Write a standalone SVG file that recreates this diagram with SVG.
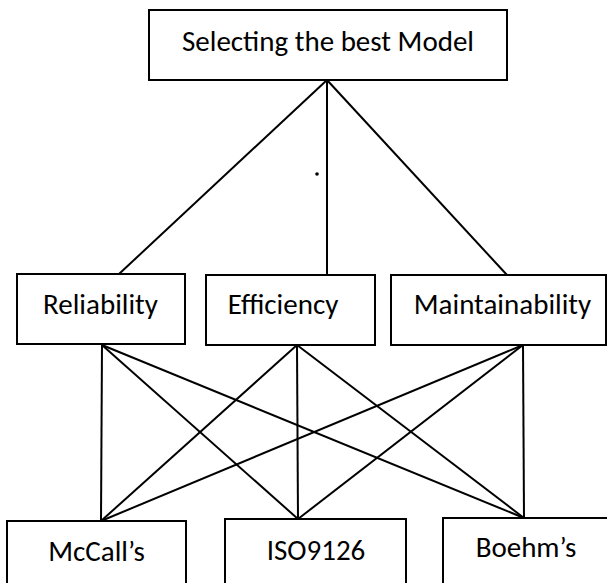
<svg xmlns="http://www.w3.org/2000/svg" width="607" height="583" viewBox="0 0 607 583">
<style>
.box{fill:#fff;stroke:#000;stroke-width:2}
.lbl{font-family:Carlito,Lato,"Liberation Sans",sans-serif;font-size:29px;fill:#000}
.con line{stroke:#000;stroke-width:2}
</style>
<rect width="607" height="583" fill="#fff"/>
<g class="con">
<line x1="327" y1="80" x2="119" y2="274"/>
<line x1="327" y1="80" x2="327" y2="275"/>
<line x1="327" y1="80" x2="507" y2="275"/>
<line x1="102" y1="345" x2="101" y2="521"/>
<line x1="102" y1="345" x2="298" y2="519"/>
<line x1="102" y1="345" x2="524" y2="518"/>
<line x1="297" y1="345" x2="101" y2="521"/>
<line x1="297" y1="345" x2="298" y2="519"/>
<line x1="297" y1="345" x2="524" y2="518"/>
<line x1="523" y1="345" x2="101" y2="521"/>
<line x1="523" y1="345" x2="298" y2="519"/>
<line x1="523" y1="345" x2="524" y2="518"/>
</g>
<circle cx="317" cy="174" r="1.8" fill="#000"/>
<g id="top"><rect class="box" x="149" y="10" width="358" height="70"/><text class="lbl" x="328" y="51" text-anchor="middle">Selecting the best Model</text></g>
<g id="reliability"><rect class="box" x="17" y="274" width="168" height="70"/><text class="lbl" x="100.5" y="314" text-anchor="middle">Reliability</text></g>
<g id="efficiency"><rect class="box" x="206" y="275" width="169" height="70"/><text class="lbl" x="283" y="314" text-anchor="middle">Efficiency</text></g>
<g id="maintainability"><rect class="box" x="391" y="275" width="215" height="70"/><text class="lbl" x="502.5" y="314" text-anchor="middle">Maintainability</text></g>
<g id="mccall"><rect class="box" x="7" y="521" width="179" height="70"/><text class="lbl" x="96.5" y="561" text-anchor="middle">McCall’s</text></g>
<g id="iso"><rect class="box" x="225" y="519" width="181" height="70"/><text class="lbl" x="316" y="560" text-anchor="middle">ISO9126</text></g>
<g id="boehm"><rect class="box" x="443" y="518" width="170" height="70"/><text class="lbl" x="526" y="557" text-anchor="middle">Boehm’s</text></g>
</svg>
